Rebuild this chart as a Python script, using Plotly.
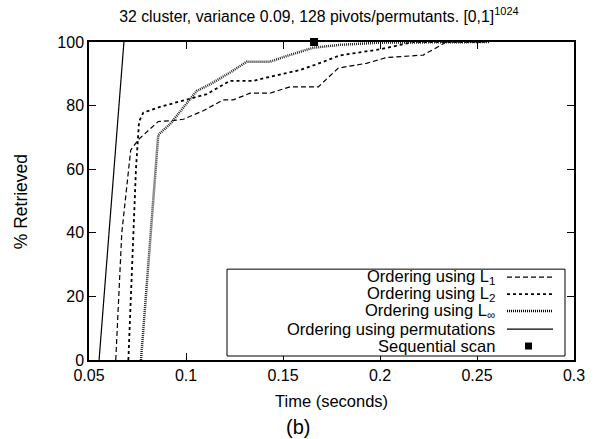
import plotly.graph_objects as go

# ---- data ----
l1_t = [0.0638, 0.0669, 0.0715, 0.0758, 0.0857, 0.0918, 0.0986, 0.1089, 0.1192, 0.1244,
        0.1330, 0.1433, 0.1536, 0.1682, 0.1785, 0.1930, 0.2034, 0.2223, 0.2343, 0.2560]
l1_r = [0, 40, 66, 69.5, 75, 75.2, 75.7, 78.4, 81.8, 81.8,
        83.9, 83.9, 85.9, 85.9, 91.8, 93.3, 95.1, 95.9, 100, 100]

l2_t = [0.0703, 0.0742, 0.0758, 0.0780, 0.0866, 0.1003, 0.1107, 0.1227, 0.1347, 0.1450,
        0.1588, 0.1674, 0.1794, 0.2000, 0.2172, 0.2540]
l2_r = [0, 60, 75, 77.8, 79.6, 82, 83.6, 87.8, 87.8, 89.3,
        91.2, 93, 95.8, 97.7, 100, 100]

linf_t = [0.0768, 0.0820, 0.0857, 0.0918, 0.0986, 0.1055, 0.1124, 0.1227, 0.1313, 0.1433,
          0.1519, 0.1656, 0.1794, 0.2000, 0.2567]
linf_r = [0, 40.8, 70.8, 74.2, 79.4, 84.6, 86.7, 90.4, 93.8, 93.8,
          95.6, 98.2, 99.1, 99.8, 100]

perm_t = [0.0552, 0.0680]
perm_r = [0, 100]

seq_t = [0.166]
seq_r = [100]

x_ticks = [0.05, 0.1, 0.15, 0.2, 0.25, 0.3]
x_tick_labels = ["0.05", "0.1", "0.15", "0.2", "0.25", "0.3"]
y_ticks = [0, 20, 40, 60, 80, 100]

legend_labels = ["Ordering using L<sub>1</sub>", "Ordering using L<sub>2</sub>",
                 "Ordering using L<sub>∞</sub>", "Ordering using permutations",
                 "Sequential scan"]

FONT = "Liberation Sans, Arial, sans-serif"

dash_l1 = "5px,3px"
dash_l2 = "3px,3px"
dash_linf = "1px,1px"

fig = go.Figure()
fig.add_trace(go.Scatter(x=l1_t, y=l1_r, mode="lines",
                         line=dict(color="black", width=1.2, dash=dash_l1), cliponaxis=False))
fig.add_trace(go.Scatter(x=l2_t, y=l2_r, mode="lines",
                         line=dict(color="black", width=1.8, dash=dash_l2), cliponaxis=False))
fig.add_trace(go.Scatter(x=linf_t, y=linf_r, mode="lines",
                         line=dict(color="#222222", width=2.5, dash=dash_linf), cliponaxis=False))
fig.add_trace(go.Scatter(x=perm_t, y=perm_r, mode="lines",
                         line=dict(color="black", width=1.2), cliponaxis=False))
fig.add_trace(go.Scatter(x=seq_t, y=seq_r, mode="markers",
                         marker=dict(symbol="square", size=8, color="black"), cliponaxis=False))

# ---- manual gnuplot-style legend (text left of sample) ----
L, R, T, B = 89, 574, 41.5, 360
def px(xp):
    return (xp - L) / (R - L)
def py(yp):
    return (B - yp) / (B - T)

shapes = [dict(type="rect", xref="paper", yref="paper",
               x0=px(227), x1=px(565), y0=py(356), y1=py(269),
               line=dict(color="black", width=1), fillcolor="white", layer="above")]
rows = [277, 294, 311, 329, 346]
styles = [dict(width=1.2, dash=dash_l1), dict(width=1.8, dash=dash_l2),
          dict(width=2.5, dash=dash_linf), dict(width=1.2, dash="solid")]
annotations = []
for i, lab in enumerate(legend_labels):
    annotations.append(dict(text=lab, xref="paper", yref="paper", x=px(497), y=py(rows[i]),
                            xanchor="right", yanchor="middle", showarrow=False,
                            font=dict(family=FONT, size=16.5, color="black")))
    if i < 4:
        shapes.append(dict(type="line", xref="paper", yref="paper",
                           x0=px(507), x1=px(553), y0=py(rows[i]), y1=py(rows[i]),
                           line=dict(color="black", **styles[i]), layer="above"))
    else:
        shapes.append(dict(type="rect", xref="paper", yref="paper",
                           x0=px(525), x1=px(532), y0=py(rows[i] + 3.5), y1=py(rows[i] - 3.5),
                           line=dict(color="black", width=0), fillcolor="black", layer="above"))

# axis titles and caption placed like the reference
annotations.append(dict(text="Time (seconds)", xref="paper", yref="paper", x=px(331.5), y=py(401.5),
                        xanchor="center", yanchor="middle", showarrow=False,
                        font=dict(family=FONT, size=16.5, color="black")))
annotations.append(dict(text="% Retrieved", xref="paper", yref="paper", x=px(21), y=py(202),
                        xanchor="center", yanchor="middle", showarrow=False, textangle=-90,
                        font=dict(family=FONT, size=17.5, color="black")))
annotations.append(dict(text="(b)", xref="paper", yref="paper", x=px(297.5), y=py(427),
                        xanchor="center", yanchor="middle", showarrow=False,
                        font=dict(family=FONT, size=20, color="black")))

fig.update_layout(
    width=608, height=439,
    margin=dict(l=L, r=608 - R, t=T, b=439 - B),
    paper_bgcolor="white", plot_bgcolor="white",
    showlegend=False,
    font=dict(family=FONT, size=16, color="black"),
    title=dict(text="32 cluster, variance 0.09, 128 pivots/permutants. [0,1]<sup>1024</sup>",
               x=px(319), xref="paper", xanchor="center", y=1 - 16 / 439, yanchor="middle",
               font=dict(family=FONT, size=15.8, color="black")),
    shapes=shapes, annotations=annotations,
)
fig.update_xaxes(range=[0.05, 0.3], tickvals=x_ticks, ticktext=x_tick_labels,
                 ticks="inside", ticklen=7, tickcolor="black", showgrid=False, zeroline=False,
                 showline=True, linecolor="black", linewidth=1.5, mirror="ticks",
                 tickfont=dict(family=FONT, size=16))
fig.update_yaxes(range=[0, 100], tickvals=y_ticks,
                 ticks="inside", ticklen=7, tickcolor="black", showgrid=False, zeroline=False,
                 showline=True, linecolor="black", linewidth=1.5, mirror="ticks",
                 tickfont=dict(family=FONT, size=16))

fig.write_html("out.html")
